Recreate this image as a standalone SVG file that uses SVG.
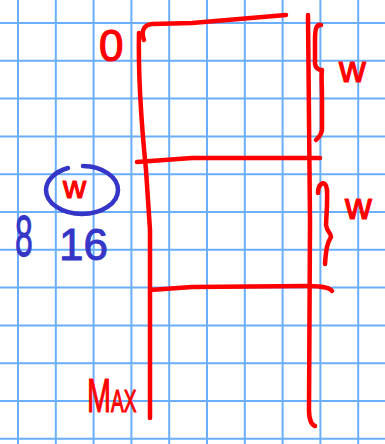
<svg xmlns="http://www.w3.org/2000/svg" width="385" height="444" viewBox="0 0 385 444">
<style>
.grid{stroke:#6aaefc;stroke-width:2;fill:none}
.red{stroke:#ff0000;stroke-width:4.5;fill:none;stroke-linecap:round;stroke-linejoin:round}
.blue{stroke:#3535c8;stroke-width:4.5;fill:none;stroke-linecap:round}
.rt{fill:#ff0000;stroke:#ff0000;stroke-width:1.2;stroke-linejoin:round;font-family:"Liberation Sans",Arial,sans-serif}
.bt{fill:#3535c8;stroke:#3535c8;stroke-width:1;stroke-linejoin:round;font-family:"Liberation Sans",Arial,sans-serif}
</style>
<rect width="385" height="444" fill="#ffffff"/>
<g id="grid" class="grid">
<path d="M18,0V444M55.8,0V444M93.6,0V444M131.4,0V444M169.2,0V444M207,0V444M244.8,0V444M282.6,0V444M320.4,0V444M358.2,0V444"/>
<path d="M0,23H385M0,60.8H385M0,98.6H385M0,136.4H385M0,174.2H385M0,212H385M0,249.8H385M0,287.6H385M0,325.4H385M0,363.2H385M0,401H385M0,438.8H385"/>
</g>
<g id="ladder" class="red">
<path d="M144,40 C141,32 143,25 152,24 L192,23 L286,15"/>
<path d="M139,33 C138,80 141,120 146,170 L150,230 L150,418"/>
<path d="M137,162 L192,158 L320,158"/>
<path d="M150,290 L192,287 L309,286 C320,286 330,288 332,291"/>
<path d="M308,15 L310,222 L309,410 C309,420 312,425 315,426"/>
</g>
<g id="brace1" class="red">
<path d="M321,25 C316,24 315,30 315,40 L315,64 C316,69 319,70 322,70 C321,76 322,82 322,100 L322,130 C321,136 318,138 316,140"/>
</g>
<g id="brace2" class="red">
<path d="M318,193 C318,185 322,182 325,184 C328,187 327,195 327,205 L326,225 C327,232 331,233 331,237 C327,243 326,250 325,264"/>
</g>
<g id="label-0"><text class="rt" x="99" y="61" font-size="44" stroke-width="1.6">0</text></g>
<g id="label-w1"><text class="rt" x="339" y="82" font-size="37">w</text></g>
<g id="label-w2"><text class="rt" x="345" y="219" font-size="37">w</text></g>
<g id="label-max"><text class="rt" transform="translate(87,412) scale(0.6,1)"><tspan font-size="48">M</tspan><tspan font-size="32">AX</tspan></text></g>
<g id="circled-w">
<path class="blue" d="M83,166 A36,24 0 0 1 118,190 A36,24 0 0 1 46,190 A36,24 0 0 1 68,168"/>
<text class="rt" x="63" y="198" font-size="32">w</text>
</g>
<g id="label-8"><text class="bt" transform="translate(15,256) scale(0.55,1)" font-size="58">8</text></g>
<g id="label-16"><text class="bt" x="59" y="260" font-size="44">16</text></g>
</svg>
